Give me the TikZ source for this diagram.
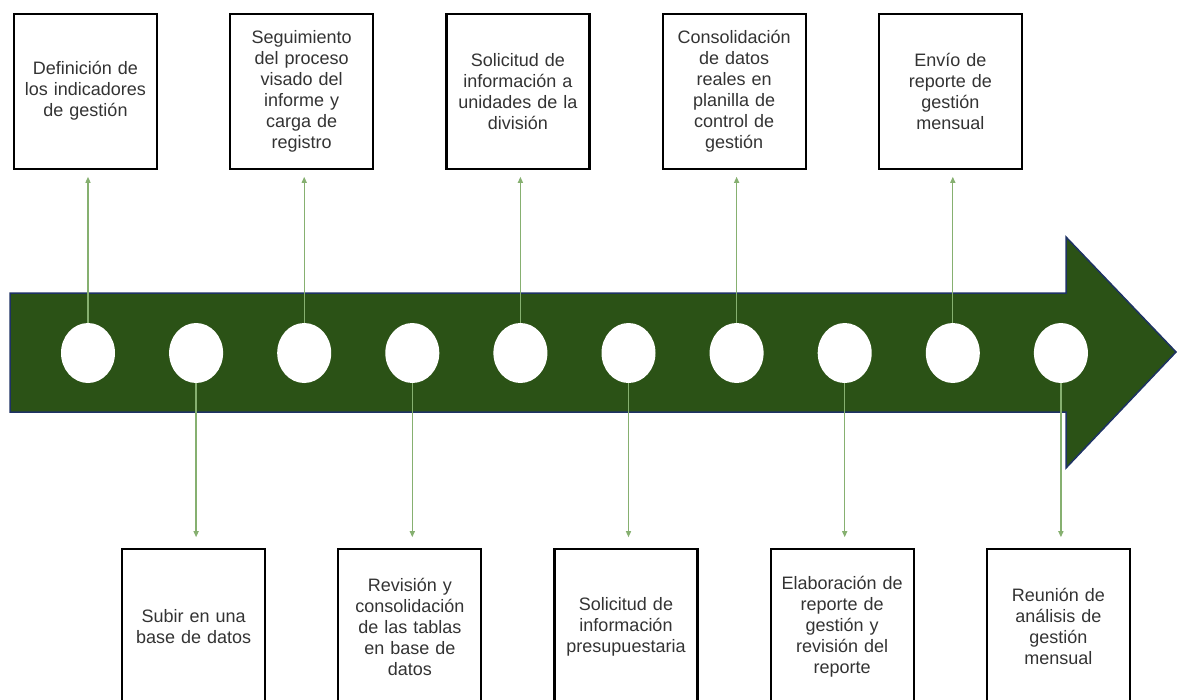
\documentclass[tikz,border=0pt]{standalone}
\usepackage{fontspec}
\setmainfont{Liberation Sans}
\usepackage{xcolor}
\usetikzlibrary{positioning,shapes.geometric,arrows.meta}

\definecolor{arrowgreen}{RGB}{43,82,22}
\definecolor{arrowedge}{RGB}{30,50,100}
\definecolor{linkgreen}{RGB}{134,176,112}
\definecolor{boxtext}{RGB}{51,51,51}

\begin{document}
\begin{tikzpicture}[x=1pt, y=-1pt, node distance=53.7pt,
  dot/.style={ellipse, fill=white, minimum width=54pt, minimum height=60pt, inner sep=0pt},
  stepbox/.style={draw, rectangle, line width=2.2pt, minimum width=143pt, minimum height=155pt, xshift=-2.5pt,
    text width=135pt, align=center, text=boxtext, font=\fontsize{18}{21}\selectfont},
  link/.style={draw=linkgreen, line width=1.3pt, -{Triangle[length=6pt,width=5pt]}, shorten >=7pt}]
  \useasboundingbox (0,0) rectangle (1177,699);

  % timeline arrow
  \filldraw[fill=arrowgreen, draw=arrowedge, line width=1.5pt]
    (10,293) -- (1066,293) -- (1066,237) -- (1176,352) -- (1066,468) -- (1066,412) -- (10,412) -- cycle;

  % dots on the timeline
  \node[dot] (D1) at (88,353) {};
  \node[dot, right=of D1] (D2) {};
  \node[dot, right=of D2] (D3) {};
  \node[dot, right=of D3] (D4) {};
  \node[dot, right=of D4] (D5) {};
  \node[dot, right=of D5] (D6) {};
  \node[dot, right=of D6] (D7) {};
  \node[dot, right=of D7] (D8) {};
  \node[dot, right=of D8] (D9) {};
  \node[dot, right=of D9] (D10) {};

  % steps above
  \node[stepbox, above=153pt of D1] (S1) {Definición de\\los indicadores\\de gestión};
  \node[stepbox, above=153pt of D3] (S3) {Seguimiento\\del proceso\\visado del\\informe y\\carga de\\registro};
  \node[stepbox, above=153pt of D5] (S5) {Solicitud de\\información a\\unidades de la\\división};
  \node[stepbox, above=153pt of D7] (S7) {Consolidación\\de datos\\reales en\\planilla de\\control de\\gestión};
  \node[stepbox, above=153pt of D9] (S9) {Envío de\\reporte de\\gestión\\mensual};

  % steps below
  \node[stepbox, below=165pt of D2] (S2) {Subir en una\\base de datos};
  \node[stepbox, below=165pt of D4] (S4) {Revisión y\\consolidación\\de las tablas\\en base de\\datos};
  \node[stepbox, below=165pt of D6] (S6) {Solicitud de\\información\\presupuestaria};
  \node[stepbox, below=165pt of D8] (S8) {Elaboración de\\reporte de\\gestión y\\revisión del\\reporte};
  \node[stepbox, below=165pt of D10] (S10) {Reunión de\\análisis de\\gestión\\mensual};

  \draw[link] (D1.north) -- (D1.north |- S1.south);
  \draw[link] (D3.north) -- (D3.north |- S3.south);
  \draw[link] (D5.north) -- (D5.north |- S5.south);
  \draw[link] (D7.north) -- (D7.north |- S7.south);
  \draw[link] (D9.north) -- (D9.north |- S9.south);
  \draw[link, shorten >=11pt] (D2.south) -- (D2.south |- S2.north);
  \draw[link, shorten >=11pt] (D4.south) -- (D4.south |- S4.north);
  \draw[link, shorten >=11pt] (D6.south) -- (D6.south |- S6.north);
  \draw[link, shorten >=11pt] (D8.south) -- (D8.south |- S8.north);
  \draw[link, shorten >=11pt] (D10.south) -- (D10.south |- S10.north);
\end{tikzpicture}
\end{document}
